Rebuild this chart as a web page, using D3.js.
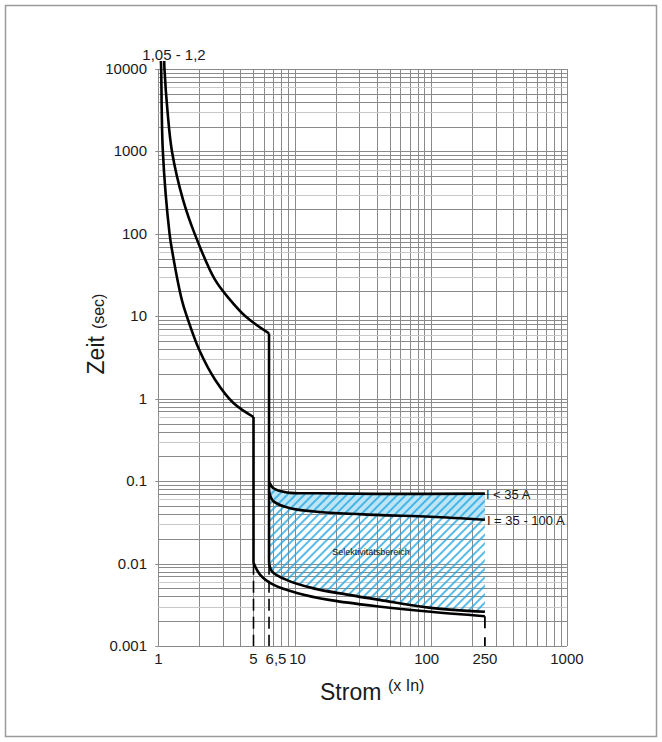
<!DOCTYPE html>
<html>
<head>
<meta charset="utf-8">
<script src="https://cdn.jsdelivr.net/npm/d3@7"></script>
<style>
  body { margin: 0; background: #fff; }
  svg { display: block; font-family: "Liberation Sans", Arial, sans-serif; }
</style>
</head>
<body>
<div id="chart"></div>
<script>
// Auslösekennlinie - log/log chart

// tick labels
const yTickValues = [0.001, 0.01, 0.1, 1, 10, 100, 1000, 10000];
const yTickLabels = ["0.001", "0.01", "0.1", "1", "10", "100", "1000", "10000"];
const xTickValues = [1, 5, 6.5, 10, 100, 250, 1000];
const xTickLabels = ["1", "5", "6,5", "10", "100", "250", "1000"];

// curves: [current multiple (x In), time (sec)]
const innerTop = [[1.045, 12500], [1.05, 10000], [1.08, 1000], [1.21, 100], [1.26, 64], [1.49, 15.7], [1.62, 10],
                  [2.0, 3.9], [2.62, 1.69], [3.58, 0.88], [5, 0.6]];
const innerBottom = [[5, 0.0102], [5.6, 0.0073], [7.05, 0.0055], [10.4, 0.0044], [18.4, 0.0036],
                     [42.9, 0.003], [100, 0.0026], [250, 0.0023]];
const outerTop = [[1.105, 12500], [1.11, 10000], [1.17, 3000], [1.26, 1000], [1.52, 258], [1.85, 100],
                  [2.6, 28], [3.38, 15.7], [4.36, 10], [6.5, 6.2]];
const outerBottom = [[6.5, 0.0102], [6.85, 0.008], [8.8, 0.0063], [13.8, 0.005], [24.4, 0.0042],
                     [42.9, 0.0036], [100, 0.0029], [250, 0.0026]];
const limitBelow35 = [[6.5, 0.098], [7, 0.082], [8.8, 0.073], [14.5, 0.0712], [40, 0.07], [250, 0.0705]];
const limit35to100 = [[6.5, 0.075], [7, 0.057], [9.3, 0.047], [16, 0.042], [40, 0.039], [100, 0.037], [250, 0.034]];

// vertical drops
const innerDrop = [[5, 0.6], [5, 0.0102]];
const outerDrop = [[6.5, 6.2], [6.5, 0.0102]];
const dashedDrops = [[[5, 0.0102], [5, 0.001]], [[6.5, 0.0102], [6.5, 0.001]]];
const endDrop = [[250, 0.0023], [250, 0.001]];

const width = 662, height = 742;

const svg = d3.select("#chart").append("svg")
  .attr("width", width)
  .attr("height", height);

// outer frame
svg.append("rect")
  .attr("x", 5.5).attr("y", 5.5)
  .attr("width", 651).attr("height", 731)
  .attr("fill", "none")
  .attr("stroke", "#9a9a9a")
  .attr("stroke-width", 1.5);

const x = d3.scaleLog().domain([1, 1000]).range([158.3, 566.9]);
const y = d3.scaleLog().domain([0.001, 10000]).range([646, 69]);

// grid: 1..9 per decade
const xGrid = [];
for (let e = 0; e < 3; e++) for (let m = 1; m < 10; m++) xGrid.push(m * Math.pow(10, e));
xGrid.push(1000);
const yGrid = [];
for (let e = -3; e < 4; e++) for (let m = 1; m < 10; m++) yGrid.push(+(m * Math.pow(10, e)).toPrecision(3));
yGrid.push(10000);

const grid = svg.append("g").attr("stroke", "#8a8a8a").attr("stroke-width", 1);
grid.selectAll("line.v").data(xGrid).enter().append("line")
  .attr("class", "v")
  .attr("x1", d => Math.round(x(d)) + 0.5).attr("x2", d => Math.round(x(d)) + 0.5)
  .attr("y1", y(10000)).attr("y2", y(0.001));
grid.selectAll("line.h").data(yGrid).enter().append("line")
  .attr("class", "h")
  .attr("stroke", (d, i) => (i % 9 === 2 || i % 9 === 5) ? "#c8c8c8" : null)
  .attr("y1", d => Math.round(y(d)) + 0.5).attr("y2", d => Math.round(y(d)) + 0.5)
  .attr("x1", x(1)).attr("x2", x(1000));

// small ticks left of the decades
grid.selectAll("line.t").data(yTickValues).enter().append("line")
  .attr("class", "t")
  .attr("y1", d => Math.round(y(d)) + 0.5).attr("y2", d => Math.round(y(d)) + 0.5)
  .attr("x1", x(1) - 3).attr("x2", x(1));

// generators
const curve = d3.line()
  .x(d => x(d[0]))
  .y(d => y(d[1]))
  .curve(d3.curveCatmullRom.alpha(0.5));
const straight = d3.line()
  .x(d => x(d[0]))
  .y(d => y(d[1]));

// light blue band between the two limit lines
svg.append("path")
  .attr("d", curve(limitBelow35) + curve(limit35to100.slice().reverse()).replace(/^M/, "L") + "Z")
  .attr("fill", "#bde5f6");

// hatched selectivity area
const defs = svg.append("defs");
const pat = defs.append("pattern")
  .attr("id", "hatch")
  .attr("patternUnits", "userSpaceOnUse")
  .attr("width", 6).attr("height", 6)
  .attr("patternTransform", "rotate(45)");
pat.append("line")
  .attr("x1", 1).attr("x2", 1)
  .attr("y1", 0).attr("y2", 6)
  .attr("stroke", "#1fa6e0")
  .attr("stroke-width", 1.5);

svg.append("path")
  .attr("d", curve(limitBelow35) + curve(outerBottom.slice().reverse()).replace(/^M/, "L") + "Z")
  .attr("fill", "url(#hatch)");

// characteristic curves
const curves = svg.append("g")
  .attr("fill", "none")
  .attr("stroke", "#000")
  .attr("stroke-width", 2.6)
  .attr("stroke-linecap", "butt")
  .attr("stroke-linejoin", "round");

[innerTop, innerBottom, outerTop, outerBottom, limitBelow35, limit35to100].forEach(pts => {
  curves.append("path").attr("d", curve(pts));
});
[innerDrop, outerDrop].forEach(pts => {
  curves.append("path").attr("d", straight(pts));
});

// dashed drops to the axis
dashedDrops.forEach(pts => {
  svg.append("path")
    .attr("d", straight(pts))
    .attr("stroke", "#000")
    .attr("stroke-width", 1.6)
    .attr("stroke-dasharray", "12,6")
    .attr("fill", "none");
});
svg.append("path")
  .attr("d", straight(endDrop))
  .attr("stroke", "#000")
  .attr("stroke-width", 1.8)
  .attr("stroke-dasharray", "12,9")
  .attr("fill", "none");

// y tick labels
svg.append("g").selectAll("text")
  .data(yTickValues)
  .enter().append("text")
  .attr("x", 147)
  .attr("y", d => y(d) + 5)
  .attr("text-anchor", "end")
  .style("font-size", "15px")
  .attr("fill", "#1a1a1a")
  .text((d, i) => yTickLabels[i]);

// x tick labels (a couple nudged like in the original)
const xNudge = { "6,5": 7, "10": 3, "100": -4 };
svg.append("g").selectAll("text")
  .data(xTickValues)
  .enter().append("text")
  .attr("x", (d, i) => x(d) + (xNudge[xTickLabels[i]] || 0))
  .attr("y", 664)
  .attr("text-anchor", "middle")
  .style("font-size", "15px")
  .attr("fill", "#1a1a1a")
  .text((d, i) => xTickLabels[i]);

// annotations
svg.append("text")
  .attr("x", 174).attr("y", 60)
  .attr("text-anchor", "middle")
  .style("font-size", "15px")
  .attr("fill", "#1a1a1a")
  .text("1,05 - 1,2");

svg.append("text")
  .attr("x", x(250) + 1).attr("y", y(0.0705) + 5)
  .style("font-size", "13px")
  .attr("fill", "#1a1a1a")
  .text("I < 35 A");

svg.append("text")
  .attr("x", x(250) + 2).attr("y", y(0.034) + 5)
  .style("font-size", "13px")
  .attr("fill", "#1a1a1a")
  .text("I = 35 - 100 A");

svg.append("text")
  .attr("x", 371).attr("y", 555)
  .attr("text-anchor", "middle")
  .style("font-size", "9px")
  .attr("fill", "#111")
  .text("Selektivitätsbereich");

// axis titles
const yTitle = svg.append("text")
  .attr("transform", "translate(104,334) rotate(-90)")
  .attr("text-anchor", "middle")
  .attr("fill", "#1a1a1a");
yTitle.append("tspan").style("font-size", "23px").text("Zeit");
yTitle.append("tspan").style("font-size", "16px").attr("dx", 7).text("(sec)");

svg.append("text")
  .attr("x", 320).attr("y", 700)
  .style("font-size", "23px")
  .attr("fill", "#1a1a1a")
  .text("Strom");
svg.append("text")
  .attr("x", 388).attr("y", 691)
  .style("font-size", "16px")
  .attr("fill", "#1a1a1a")
  .text("(x In)");
</script>
</body>
</html>
